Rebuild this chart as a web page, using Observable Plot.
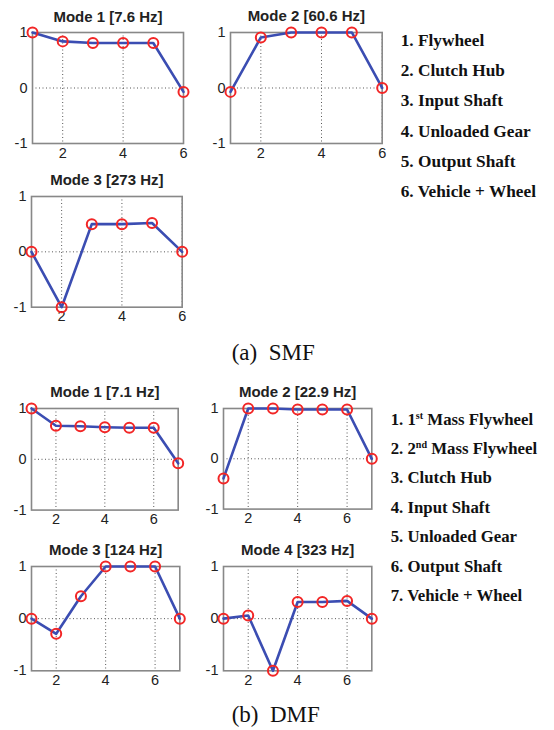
<!DOCTYPE html>
<html>
<head>
<meta charset="utf-8">
<script src="https://cdn.jsdelivr.net/npm/d3@7"></script>
<script src="https://cdn.jsdelivr.net/npm/@observablehq/plot@0.6"></script>
<style>
  html, body { margin: 0; padding: 0; background: #fff; }
  #fig { position: relative; width: 554px; height: 730px; overflow: hidden; background: #fff; }
  .legend { position: absolute; font-family: "Liberation Serif", "Times New Roman", serif; font-weight: bold; color: #111; white-space: nowrap; }
  .legend sup { font-size: 0.6em; line-height: 0; vertical-align: 0.55em; }
  .caption { position: absolute; font-family: "Liberation Serif", "Times New Roman", serif; font-size: 23px; line-height: 23px; color: #111; white-space: pre; }
</style>
</head>
<body>
<div id="fig"></div>
<script>
// Degree-of-freedom labels for the two driveline models
const smfParts = ["1. Flywheel", "2. Clutch Hub", "3. Input Shaft", "4. Unloaded Gear", "5. Output Shaft", "6. Vehicle + Wheel"];
const dmfParts = ["1. 1<sup>st</sup> Mass Flywheel", "2. 2<sup>nd</sup> Mass Flywheel", "3. Clutch Hub", "4. Input Shaft", "5. Unloaded Gear", "6. Output Shaft", "7. Vehicle + Wheel"];

// Mode titles
const smfTitles = ["Mode 1 [7.6 Hz]", "Mode 2 [60.6 Hz]", "Mode 3 [273 Hz]"];
const dmfTitles = ["Mode 1 [7.1 Hz]", "Mode 2 [22.9 Hz]", "Mode 3 [124 Hz]", "Mode 4 [323 Hz]"];

// Normalised mode-shape amplitudes per degree of freedom
const smfMode1 = [1, 0.84, 0.81, 0.81, 0.81, -0.07];
const smfMode2 = [-0.07, 0.91, 1, 1, 1, 0];
const smfMode3 = [0, -1, 0.5, 0.5, 0.52, 0];
const dmfMode1 = [1, 0.66, 0.65, 0.63, 0.62, 0.62, -0.08];
const dmfMode2 = [-0.39, 1, 1, 0.98, 0.98, 0.98, 0];
const dmfMode3 = [0, -0.29, 0.43, 1, 1, 1, 0];
const dmfMode4 = [0, 0.06, -1, 0.32, 0.32, 0.34, 0];

// Axis ticks
const xTicks = [2, 4, 6];
const yTicks = [-1, 0, 1];

const captions = ["(a)  SMF", "(b)  DMF"];

const fig = document.getElementById("fig");

// Plot-area boxes (page pixels) for each subplot
const boxes = [
  {title: smfTitles[0], values: smfMode1, left: 31.7, right: 182.7, top: 32, bottom: 143},
  {title: smfTitles[1], values: smfMode2, left: 230, right: 381.7, top: 32, bottom: 143},
  {title: smfTitles[2], values: smfMode3, left: 31, right: 181.7, top: 196, bottom: 306.7},
  {title: dmfTitles[0], values: dmfMode1, left: 31, right: 177.7, top: 407.7, bottom: 509.3},
  {title: dmfTitles[1], values: dmfMode2, left: 222.7, right: 371, top: 407.7, bottom: 508.3},
  {title: dmfTitles[2], values: dmfMode3, left: 31, right: 179.3, top: 565.7, bottom: 670},
  {title: dmfTitles[3], values: dmfMode4, left: 222.7, right: 371, top: 565.7, bottom: 670}
];

const fmt = d => String(d);

function panel(b) {
  const data = b.values.map((v, i) => ({dof: i + 1, amp: v}));
  const ML = 32, MT = 32, MR = 8, MB = 24;
  const w = b.right - b.left, h = b.bottom - b.top;
  const grid = {stroke: "#555", strokeWidth: 1, strokeDasharray: "1,2.5"};
  const p = Plot.plot({
    width: w + ML + MR,
    height: h + MT + MB,
    marginLeft: ML, marginTop: MT, marginRight: MR, marginBottom: MB,
    x: {domain: [1, b.values.length]},
    y: {domain: [-1, 1]},
    style: {fontFamily: "'Liberation Sans', Arial, sans-serif", fontSize: "14px", color: "#222", background: "transparent", overflow: "visible"},
    marks: [
      Plot.ruleX(xTicks, grid),
      Plot.ruleY([0], grid),
      Plot.frame({stroke: "#888", strokeWidth: 1.6}),
      Plot.axisX({ticks: xTicks, tickFormat: fmt, tickSize: 0, tickPadding: 4, label: null, fontSize: 14.5}),
      Plot.axisY({ticks: yTicks, tickFormat: fmt, tickSize: 0, tickPadding: 5, label: null, fontSize: 14.5}),
      Plot.line(data, {x: "dof", y: "amp", stroke: "#3b4db2", strokeWidth: 2.6}),
      Plot.dot(data, {x: "dof", y: "amp", r: 5, stroke: "#f22626", strokeWidth: 2, fill: "none"}),
      Plot.text([b.title], {text: d => d, frameAnchor: "top", dy: -11, lineAnchor: "bottom", fontWeight: "bold", fontSize: 15, fill: "#222"})
    ]
  });
  p.style.position = "absolute";
  p.style.left = (b.left - ML) + "px";
  p.style.top = (b.top - MT) + "px";
  fig.appendChild(p);
}

boxes.forEach(panel);

function legend(items, left, top, size, lineH) {
  const div = document.createElement("div");
  div.className = "legend";
  div.style.left = left + "px";
  div.style.top = top + "px";
  div.style.fontSize = size + "px";
  div.style.lineHeight = lineH + "px";
  div.innerHTML = items.map(s => `<div>${s}</div>`).join("");
  fig.appendChild(div);
}
legend(smfParts, 400.7, 26, 17.3, 30.2);
legend(dmfParts, 390.7, 404.5, 16.8, 29.4);

function caption(text, left, top) {
  const div = document.createElement("div");
  div.className = "caption";
  div.style.left = left + "px";
  div.style.top = top + "px";
  div.textContent = text;
  fig.appendChild(div);
}
caption(captions[0], 231.7, 340.7);
caption(captions[1], 231.7, 702.7);
</script>
</body>
</html>
